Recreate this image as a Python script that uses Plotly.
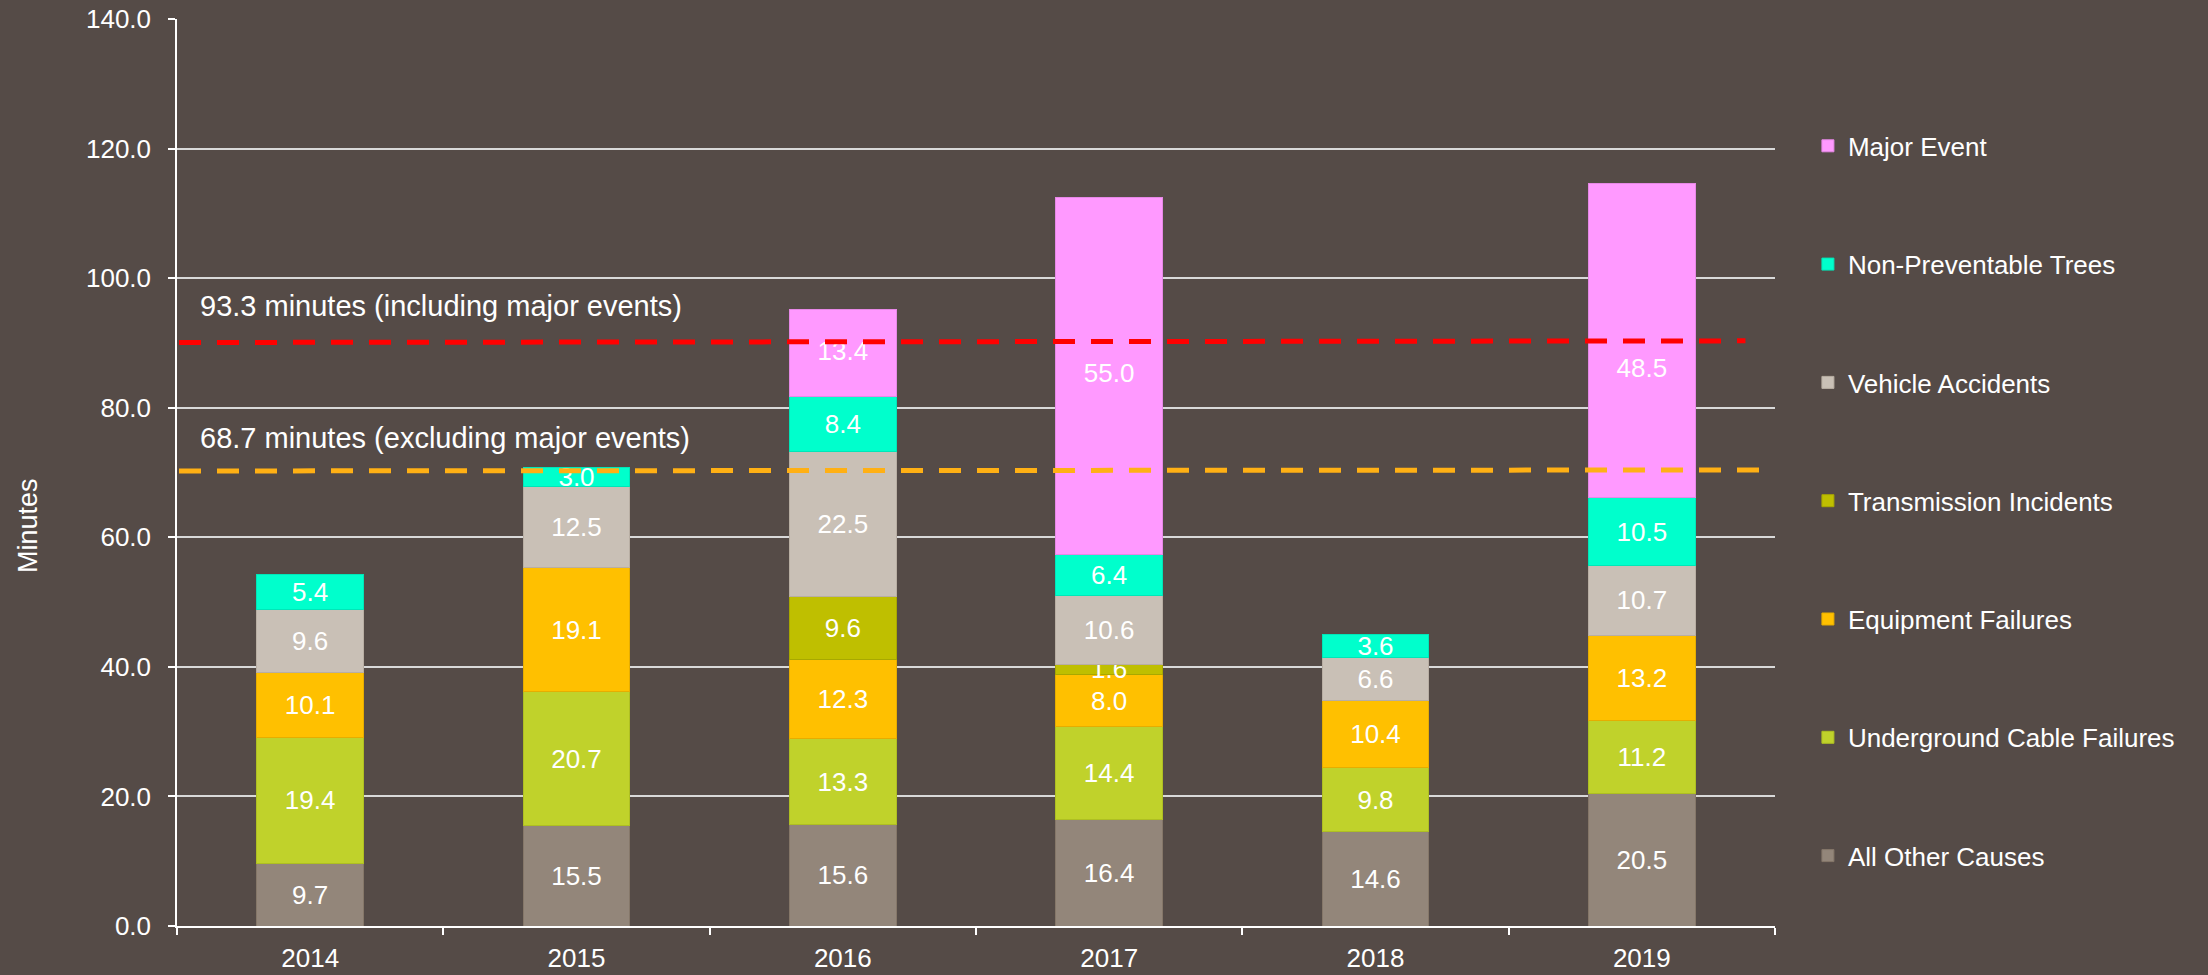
import plotly.graph_objects as go

years = ["2014", "2015", "2016", "2017", "2018", "2019"]

all_other = [9.7, 15.5, 15.6, 16.4, 14.6, 20.5]
underground = [19.4, 20.7, 13.3, 14.4, 9.8, 11.2]
equipment = [10.1, 19.1, 12.3, 8.0, 10.4, 13.2]
transmission = [None, None, 9.6, 1.6, None, None]
vehicle = [9.6, 12.5, 22.5, 10.6, 6.6, 10.7]
trees = [5.4, 3.0, 8.4, 6.4, 3.6, 10.5]
major = [None, None, 13.4, 55.0, None, 48.5]
# where the Major Event value labels sit
major_label_y = [None, None, 88.3, 84.9, None, 85.7]

series_names = [
    "All Other Causes",
    "Underground Cable Failures",
    "Equipment Failures",
    "Transmission Incidents",
    "Vehicle Accidents",
    "Non-Preventable Trees",
    "Major Event",
]
series_values = [all_other, underground, equipment, transmission, vehicle, trees, major]
series_colors = ["#93867A", "#C0D22B", "#FFC000", "#BFBF00", "#C9C0B6", "#00FFCC", "#FF99FF"]
edge_colors = ["#857769", "#AEBF22", "#E6AD00", "#A8A800", "#B8AEA3", "#00E6B8", "#E688E6"]

# reference lines
line_labels = ["93.3 minutes (including major events)", "68.7 minutes (excluding major events)"]
line_start_values = [90.07, 70.24]
line_end_values = [90.32, 70.39]
line_x_start = [-0.4925, -0.4925]
line_x_end = [5.389, 5.45]
line_colors = ["#FF0000", "#FFB014"]
label_y_values = [95.7, 75.4]

FONT = "Liberation Sans, Arial, sans-serif"
BG = "#554B47"

fig = go.Figure()
n = len(series_names)
for i, (name, vals, col, edge) in enumerate(zip(series_names, series_values, series_colors, edge_colors)):
    is_major = name == "Major Event"
    fig.add_trace(go.Bar(
        x=years, y=vals, name=name,
        marker=dict(color=col, line=dict(color=edge, width=1)),
        text=None if is_major else [None if v is None else f"{v:.1f}" for v in vals],
        textposition="inside", insidetextanchor="middle", textangle=0,
        textfont=dict(color="white", size=26, family=FONT),
        legendgroup=name, legendrank=n - i, hoverinfo="skip",
    ))

fig.add_trace(go.Scatter(
    x=years, y=major_label_y, mode="text",
    text=[None if v is None else f"{v:.1f}" for v in major],
    textposition="middle center",
    textfont=dict(color="white", size=26, family=FONT),
    showlegend=False, hoverinfo="skip", cliponaxis=False,
))

for lab, y0, y1, x0, x1, col, ly in zip(line_labels, line_start_values, line_end_values,
                                        line_x_start, line_x_end, line_colors, label_y_values):
    fig.add_shape(type="line", xref="x", yref="y", x0=x0, x1=x1, y0=y0, y1=y1,
                  line=dict(color=col, width=5, dash="22px,16px"), layer="above")
    fig.add_annotation(text=lab, xref="x", yref="y", x=-0.421, y=ly, xanchor="left",
                       yanchor="middle", showarrow=False,
                       font=dict(color="white", size=29, family=FONT))

fig.add_annotation(text="Minutes", xref="paper", yref="paper", x=-0.0932, y=0.441,
                   textangle=-90, showarrow=False, xanchor="center", yanchor="middle",
                   font=dict(color="white", size=27, family=FONT))

fig.update_layout(
    width=2208, height=975,
    paper_bgcolor=BG, plot_bgcolor=BG,
    margin=dict(l=177, r=433, t=19, b=49, autoexpand=False),
    barmode="stack", bargap=0.6,
    font=dict(family=FONT, color="white", size=26),
    uniformtext=dict(minsize=26, mode="show"),
    showlegend=True,
    legend=dict(
        traceorder="grouped", tracegroupgap=81.5,
        x=1.0206, xanchor="left", y=0.886, yanchor="top",
        font=dict(color="white", size=26, family=FONT),
        bgcolor="rgba(0,0,0,0)",
    ),
    xaxis=dict(
        type="category", showgrid=False, showline=True, linecolor="white", linewidth=2,
        ticks="outside", tickson="boundaries", ticklen=7, tickcolor="white", tickwidth=1.5,
        tickfont=dict(color="white", size=26, family=FONT), ticklabelstandoff=8,
        range=[-0.5, 5.5], automargin=False,
    ),
    yaxis=dict(
        range=[0, 140], dtick=20, tickformat=".1f",
        showgrid=True, gridcolor="#D9D9D9", gridwidth=1.5,
        showline=True, linecolor="white", linewidth=1.5,
        ticks="outside", ticklen=7, tickcolor="white", tickwidth=1.5,
        tickfont=dict(color="white", size=26, family=FONT), ticklabelstandoff=12,
        zeroline=False, automargin=False,
    ),
)

fig.write_html("out.html", config={"displayModeBar": False},
               post_script="document.body.style.margin='0';document.body.style.overflow='hidden';")
